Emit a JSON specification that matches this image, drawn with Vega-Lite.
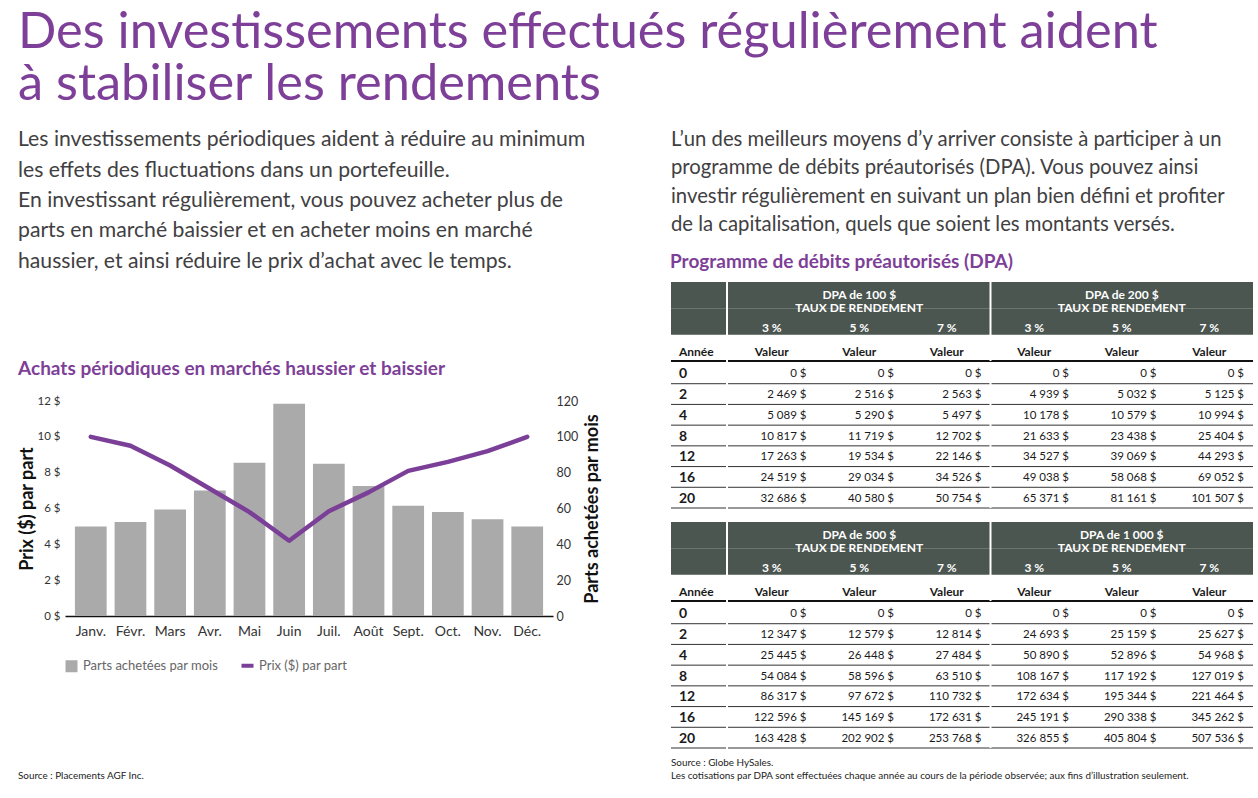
{
  "$schema": "https://vega.github.io/schema/vega-lite/v6.json",
  "background": "white",
  "padding": {"left": 18, "top": 8, "right": 0, "bottom": 0},
  "config": {"view": {"stroke": null}, "font": "Lato"},
  "title": {
    "text": ["Des investissements effectués régulièrement aident", "à stabiliser les rendements"],
    "anchor": "start", "font": "Lato", "fontSize": 50.5, "fontWeight": 400, "color": "#7e3f98", "lineHeight": 52, "offset": 13.5
  },
  "datasets": {
    "texte_gauche": [
      {"bloc": "a", "ligne": 1, "texte": "Les investissements périodiques aident à réduire au minimum"},
      {"bloc": "a", "ligne": 2, "texte": "les effets des fluctuations dans un portefeuille."},
      {"bloc": "a", "ligne": 3, "texte": "En investissant régulièrement, vous pouvez acheter plus de"},
      {"bloc": "a", "ligne": 4, "texte": "parts en marché baissier et en acheter moins en marché"},
      {"bloc": "a", "ligne": 5, "texte": "haussier, et ainsi réduire le prix d’achat avec le temps."}
    ],
    "texte_droite": [
      {"bloc": "a", "ligne": 1, "texte": "L’un des meilleurs moyens d’y arriver consiste à participer à un"},
      {"bloc": "a", "ligne": 2, "texte": "programme de débits préautorisés (DPA). Vous pouvez ainsi"},
      {"bloc": "a", "ligne": 3, "texte": "investir régulièrement en suivant un plan bien défini et profiter"},
      {"bloc": "a", "ligne": 4, "texte": "de la capitalisation, quels que soient les montants versés."}
    ],
    "source_gauche": [{"bloc": "a", "texte": "Source : Placements AGF Inc."}],
    "source_droite": [
      {"bloc": "a", "ligne": 1, "texte": "Source : Globe HySales."},
      {"bloc": "a", "ligne": 2, "texte": "Les cotisations par DPA sont effectuées chaque année au cours de la période observée; aux fins d’illustration seulement."}
    ],
    "mois": [
      {"mois": "Janv.", "parts": 50, "prix": 10},
      {"mois": "Févr.", "parts": 52.5, "prix": 9.5},
      {"mois": "Mars", "parts": 59.5, "prix": 8.4},
      {"mois": "Avr.", "parts": 70, "prix": 7.1},
      {"mois": "Mai", "parts": 85.5, "prix": 5.8},
      {"mois": "Juin", "parts": 118.5, "prix": 4.2},
      {"mois": "Juil.", "parts": 85, "prix": 5.85},
      {"mois": "Août", "parts": 72.5, "prix": 6.9},
      {"mois": "Sept.", "parts": 61.5, "prix": 8.1},
      {"mois": "Oct.", "parts": 58, "prix": 8.6},
      {"mois": "Nov.", "parts": 54, "prix": 9.2},
      {"mois": "Déc.", "parts": 50, "prix": 10}
    ],
    "entete": [{"ligne": "t"}, {"ligne": "p"}],
    "groupes": [
      {"t": "T1", "ligne": "t", "col": "A5", "label": "DPA de 100 $\nTAUX DE RENDEMENT"},
      {"t": "T1", "ligne": "t", "col": "B5", "label": "DPA de 200 $\nTAUX DE RENDEMENT"},
      {"t": "T2", "ligne": "t", "col": "A5", "label": "DPA de 500 $\nTAUX DE RENDEMENT"},
      {"t": "T2", "ligne": "t", "col": "B5", "label": "DPA de 1 000 $\nTAUX DE RENDEMENT"}
    ],
    "pourcentages": [
      {"ligne": "p", "col": "A3", "label": "3 %"},
      {"ligne": "p", "col": "A5", "label": "5 %"},
      {"ligne": "p", "col": "A7", "label": "7 %"},
      {"ligne": "p", "col": "B3", "label": "3 %"},
      {"ligne": "p", "col": "B5", "label": "5 %"},
      {"ligne": "p", "col": "B7", "label": "7 %"}
    ],
    "colonnes": [
      {"ligne": "hv", "col": "A3", "label": "Valeur"},
      {"ligne": "hv", "col": "A5", "label": "Valeur"},
      {"ligne": "hv", "col": "A7", "label": "Valeur"},
      {"ligne": "hv", "col": "B3", "label": "Valeur"},
      {"ligne": "hv", "col": "B5", "label": "Valeur"},
      {"ligne": "hv", "col": "B7", "label": "Valeur"}
    ],
    "libelles": [{"ligne": "hv", "label": "Année"}],
    "annees": [{"annee": "0"}, {"annee": "2"}, {"annee": "4"}, {"annee": "8"}, {"annee": "12"}, {"annee": "16"}, {"annee": "20"}],
    "separateur": [{"col": "B3"}],
    "valeurs": [
      {"t": "T1", "annee": "0", "col": "A3", "v": 0}, {"t": "T1", "annee": "0", "col": "A5", "v": 0}, {"t": "T1", "annee": "0", "col": "A7", "v": 0},
      {"t": "T1", "annee": "0", "col": "B3", "v": 0}, {"t": "T1", "annee": "0", "col": "B5", "v": 0}, {"t": "T1", "annee": "0", "col": "B7", "v": 0},
      {"t": "T1", "annee": "2", "col": "A3", "v": 2469}, {"t": "T1", "annee": "2", "col": "A5", "v": 2516}, {"t": "T1", "annee": "2", "col": "A7", "v": 2563},
      {"t": "T1", "annee": "2", "col": "B3", "v": 4939}, {"t": "T1", "annee": "2", "col": "B5", "v": 5032}, {"t": "T1", "annee": "2", "col": "B7", "v": 5125},
      {"t": "T1", "annee": "4", "col": "A3", "v": 5089}, {"t": "T1", "annee": "4", "col": "A5", "v": 5290}, {"t": "T1", "annee": "4", "col": "A7", "v": 5497},
      {"t": "T1", "annee": "4", "col": "B3", "v": 10178}, {"t": "T1", "annee": "4", "col": "B5", "v": 10579}, {"t": "T1", "annee": "4", "col": "B7", "v": 10994},
      {"t": "T1", "annee": "8", "col": "A3", "v": 10817}, {"t": "T1", "annee": "8", "col": "A5", "v": 11719}, {"t": "T1", "annee": "8", "col": "A7", "v": 12702},
      {"t": "T1", "annee": "8", "col": "B3", "v": 21633}, {"t": "T1", "annee": "8", "col": "B5", "v": 23438}, {"t": "T1", "annee": "8", "col": "B7", "v": 25404},
      {"t": "T1", "annee": "12", "col": "A3", "v": 17263}, {"t": "T1", "annee": "12", "col": "A5", "v": 19534}, {"t": "T1", "annee": "12", "col": "A7", "v": 22146},
      {"t": "T1", "annee": "12", "col": "B3", "v": 34527}, {"t": "T1", "annee": "12", "col": "B5", "v": 39069}, {"t": "T1", "annee": "12", "col": "B7", "v": 44293},
      {"t": "T1", "annee": "16", "col": "A3", "v": 24519}, {"t": "T1", "annee": "16", "col": "A5", "v": 29034}, {"t": "T1", "annee": "16", "col": "A7", "v": 34526},
      {"t": "T1", "annee": "16", "col": "B3", "v": 49038}, {"t": "T1", "annee": "16", "col": "B5", "v": 58068}, {"t": "T1", "annee": "16", "col": "B7", "v": 69052},
      {"t": "T1", "annee": "20", "col": "A3", "v": 32686}, {"t": "T1", "annee": "20", "col": "A5", "v": 40580}, {"t": "T1", "annee": "20", "col": "A7", "v": 50754},
      {"t": "T1", "annee": "20", "col": "B3", "v": 65371}, {"t": "T1", "annee": "20", "col": "B5", "v": 81161}, {"t": "T1", "annee": "20", "col": "B7", "v": 101507},
      {"t": "T2", "annee": "0", "col": "A3", "v": 0}, {"t": "T2", "annee": "0", "col": "A5", "v": 0}, {"t": "T2", "annee": "0", "col": "A7", "v": 0},
      {"t": "T2", "annee": "0", "col": "B3", "v": 0}, {"t": "T2", "annee": "0", "col": "B5", "v": 0}, {"t": "T2", "annee": "0", "col": "B7", "v": 0},
      {"t": "T2", "annee": "2", "col": "A3", "v": 12347}, {"t": "T2", "annee": "2", "col": "A5", "v": 12579}, {"t": "T2", "annee": "2", "col": "A7", "v": 12814},
      {"t": "T2", "annee": "2", "col": "B3", "v": 24693}, {"t": "T2", "annee": "2", "col": "B5", "v": 25159}, {"t": "T2", "annee": "2", "col": "B7", "v": 25627},
      {"t": "T2", "annee": "4", "col": "A3", "v": 25445}, {"t": "T2", "annee": "4", "col": "A5", "v": 26448}, {"t": "T2", "annee": "4", "col": "A7", "v": 27484},
      {"t": "T2", "annee": "4", "col": "B3", "v": 50890}, {"t": "T2", "annee": "4", "col": "B5", "v": 52896}, {"t": "T2", "annee": "4", "col": "B7", "v": 54968},
      {"t": "T2", "annee": "8", "col": "A3", "v": 54084}, {"t": "T2", "annee": "8", "col": "A5", "v": 58596}, {"t": "T2", "annee": "8", "col": "A7", "v": 63510},
      {"t": "T2", "annee": "8", "col": "B3", "v": 108167}, {"t": "T2", "annee": "8", "col": "B5", "v": 117192}, {"t": "T2", "annee": "8", "col": "B7", "v": 127019},
      {"t": "T2", "annee": "12", "col": "A3", "v": 86317}, {"t": "T2", "annee": "12", "col": "A5", "v": 97672}, {"t": "T2", "annee": "12", "col": "A7", "v": 110732},
      {"t": "T2", "annee": "12", "col": "B3", "v": 172634}, {"t": "T2", "annee": "12", "col": "B5", "v": 195344}, {"t": "T2", "annee": "12", "col": "B7", "v": 221464},
      {"t": "T2", "annee": "16", "col": "A3", "v": 122596}, {"t": "T2", "annee": "16", "col": "A5", "v": 145169}, {"t": "T2", "annee": "16", "col": "A7", "v": 172631},
      {"t": "T2", "annee": "16", "col": "B3", "v": 245191}, {"t": "T2", "annee": "16", "col": "B5", "v": 290338}, {"t": "T2", "annee": "16", "col": "B7", "v": 345262},
      {"t": "T2", "annee": "20", "col": "A3", "v": 163428}, {"t": "T2", "annee": "20", "col": "A5", "v": 202902}, {"t": "T2", "annee": "20", "col": "A7", "v": 253768},
      {"t": "T2", "annee": "20", "col": "B3", "v": 326855}, {"t": "T2", "annee": "20", "col": "B5", "v": 405804}, {"t": "T2", "annee": "20", "col": "B7", "v": 507536}
    ]
  },
  "spacing": 68,
  "resolve": {"scale": {"color": "independent"}, "legend": {"color": "independent"}},
  "hconcat": [
    {
      "columns": 1,
      "align": "none",
      "spacing": 82,
      "resolve": {"scale": {"color": "independent"}, "legend": {"color": "independent"}},
      "concat": [
        {
          "width": 480, "height": 154,
          "data": {"name": "texte_gauche"},
          "mark": {"type": "text", "align": "left", "baseline": "middle", "fontSize": 21.2, "color": "#414042", "dx": -47},
          "encoding": {
            "x": {"field": "bloc", "type": "nominal", "scale": {"type": "band", "paddingInner": 0, "paddingOuter": 0}, "bandPosition": 0, "axis": null},
            "y": {"field": "ligne", "type": "ordinal", "scale": {"type": "point", "padding": 0.525}, "axis": null},
            "text": {"field": "texte"}
          }
        },
        {
          "title": {"text": "Achats périodiques en marchés haussier et baissier", "anchor": "start", "fontSize": 19, "fontWeight": "bold", "color": "#7e3f98", "offset": 16},
          "width": 488, "height": 215,
          "data": {"name": "mois"},
          "encoding": {
            "x": {"field": "mois", "type": "ordinal", "sort": null, "scale": {"paddingInner": 0.2, "paddingOuter": 0.25},
                  "axis": {"title": null, "labelAngle": 0, "ticks": false, "domainColor": "#111", "domainWidth": 1.5, "labelFontSize": 14, "labelColor": "#333", "labelPadding": 8}}
          },
          "layer": [
            {
              "mark": {"type": "bar"},
              "encoding": {
                "y": {"field": "parts", "type": "quantitative", "scale": {"domain": [0, 120]},
                      "axis": {"orient": "right", "title": "Parts achetées par mois", "titleAngle": 270, "titleBaseline": "top", "titleFontSize": 18, "titleFontWeight": "bold", "titleColor": "#111", "titlePadding": 6,
                               "values": [0, 20, 40, 60, 80, 100, 120], "domain": false, "ticks": false, "grid": false, "labelFontSize": 12.5, "labelColor": "#333", "labelPadding": 3}},
                "color": {"datum": "Parts achetées par mois", "type": "nominal",
                          "scale": {"domain": ["Parts achetées par mois", "Prix ($) par part"], "range": ["#aaaaaa", "#7b3f98"]},
                          "legend": {"orient": "bottom", "direction": "horizontal", "title": null, "labelFontSize": 13, "labelColor": "#666", "symbolSize": 144, "columnPadding": 14, "labelOffset": 5, "offset": 21, "symbolType": "square",
                                     "encode": {"symbols": {"update": {
                                       "shape": {"signal": "datum.value === 'Prix ($) par part' ? 'stroke' : 'square'"},
                                       "fill": {"signal": "datum.value === 'Prix ($) par part' ? 'transparent' : '#aaaaaa'"},
                                       "stroke": {"signal": "datum.value === 'Prix ($) par part' ? '#7b3f98' : 'transparent'"},
                                       "strokeWidth": {"signal": "datum.value === 'Prix ($) par part' ? 4 : 0"},
                                       "opacity": {"value": 1}
                                     }}}}}
              }
            },
            {
              "mark": {"type": "line", "strokeWidth": 4.5, "strokeCap": "round", "strokeJoin": "round"},
              "encoding": {
                "y": {"field": "prix", "type": "quantitative", "scale": {"domain": [0, 12]},
                      "axis": {"orient": "left", "title": "Prix ($) par part", "titleFontSize": 18, "titleFontWeight": "bold", "titleColor": "#111", "titlePadding": 1,
                               "values": [0, 2, 4, 6, 8, 10, 12], "labelExpr": "datum.value + ' $'", "domain": false, "ticks": false, "grid": false, "labelFontSize": 11.5, "labelColor": "#333", "labelPadding": 5}},
                "color": {"datum": "Prix ($) par part", "type": "nominal"}
              }
            }
          ],
          "resolve": {"scale": {"y": "independent"}}
        },
        {
          "width": 300, "height": 40,
          "data": {"name": "source_gauche"},
          "mark": {"type": "text", "align": "left", "baseline": "middle", "fontSize": 9.9, "color": "#222", "dx": -47},
          "encoding": {
            "x": {"field": "bloc", "type": "nominal", "scale": {"type": "band", "paddingInner": 0, "paddingOuter": 0}, "bandPosition": 0, "axis": null},
            "text": {"field": "texte"}
          }
        }
      ]
    },
    {
      "spacing": 8,
      "vconcat": [
        {
          "width": 580, "height": 120.5,
          "data": {"name": "texte_droite"},
          "mark": {"type": "text", "align": "left", "baseline": "middle", "fontSize": 20.3, "color": "#414042"},
          "encoding": {
            "x": {"field": "bloc", "type": "nominal", "scale": {"type": "band", "paddingInner": 0, "paddingOuter": 0}, "bandPosition": 0, "axis": null},
            "y": {"field": "ligne", "type": "ordinal", "scale": {"type": "point", "padding": 0.614, "align": 0.457}, "axis": null},
            "text": {"field": "texte"}
          }
        },
        {
          "title": {"text": "Programme de débits préautorisés (DPA)", "anchor": "start", "fontSize": 19, "fontWeight": "bold", "color": "#7e3f98", "offset": 9},
          "spacing": 12,
          "vconcat": [
            {
              "spacing": 0,
              "vconcat": [
                {
                  "spacing": 0,
                  "hconcat": [
                    {
                      "width": 55, "height": 79,
                      "layer": [
                        {
                          "data": {"name": "entete"},
                          "mark": {"type": "rect", "color": "#4b5651"},
                          "encoding": {"y": {"field": "ligne", "type": "nominal", "scale": {"type": "band", "domain": ["t", "p", "hv"], "paddingInner": 0, "paddingOuter": 0}, "axis": null}}
                        },
                        {
                          "data": {"name": "libelles"},
                          "mark": {"type": "text", "align": "left", "baseline": "middle", "fontWeight": "bold", "fontSize": 12, "color": "#1a1a1a", "dx": 8, "dy": 4},
                          "encoding": {
                            "x": {"datum": "c", "type": "nominal", "scale": {"type": "band", "paddingInner": 0, "paddingOuter": 0}, "bandPosition": 0, "axis": null},
                            "y": {"field": "ligne", "type": "nominal", "axis": null},
                            "text": {"field": "label"}
                          }
                        },
                        {
                          "data": {"name": "libelles"},
                          "mark": {"type": "rule", "color": "#111", "strokeWidth": 2},
                          "encoding": {"y": {"field": "ligne", "type": "nominal", "bandPosition": 1, "axis": null}}
                        }
                      ]
                    },
                    {
                      "width": 525, "height": 79,
                      "layer": [
                        {
                          "data": {"name": "entete"},
                          "mark": {"type": "rect", "color": "#4b5651"},
                          "encoding": {"y": {"field": "ligne", "type": "nominal", "scale": {"type": "band", "domain": ["t", "p", "hv"], "paddingInner": 0, "paddingOuter": 0}, "axis": null}}
                        },
                        {
                          "data": {"name": "groupes"},
                          "transform": [{"filter": "datum.t === 'T1'"}],
                          "mark": {"type": "text", "color": "white", "fontWeight": "bold", "fontSize": 12, "lineBreak": "\n", "lineHeight": 13, "baseline": "middle", "dy": 0},
                          "encoding": {
                            "x": {"field": "col", "type": "nominal", "scale": {"type": "band", "domain": ["A3", "A5", "A7", "B3", "B5", "B7"], "paddingInner": 0, "paddingOuter": 0}, "axis": null},
                            "y": {"field": "ligne", "type": "nominal", "axis": null},
                            "text": {"field": "label"}
                          }
                        },
                        {
                          "data": {"name": "pourcentages"},
                          "mark": {"type": "text", "color": "white", "fontWeight": "bold", "fontSize": 12, "baseline": "middle", "dy": 6},
                          "encoding": {
                            "x": {"field": "col", "type": "nominal", "axis": null},
                            "y": {"field": "ligne", "type": "nominal", "axis": null},
                            "text": {"field": "label"}
                          }
                        },
                        {
                          "data": {"name": "colonnes"},
                          "mark": {"type": "text", "baseline": "middle", "fontWeight": "bold", "fontSize": 12, "color": "#1a1a1a", "dy": 4},
                          "encoding": {
                            "x": {"field": "col", "type": "nominal", "axis": null},
                            "y": {"field": "ligne", "type": "nominal", "axis": null},
                            "text": {"field": "label"}
                          }
                        },
                        {
                          "data": {"name": "libelles"},
                          "mark": {"type": "rule", "color": "#111", "strokeWidth": 2},
                          "encoding": {"y": {"field": "ligne", "type": "nominal", "bandPosition": 1, "axis": null}}
                        },
                        {
                          "data": {"name": "separateur"},
                          "mark": {"type": "rule", "color": "white", "strokeWidth": 2},
                          "encoding": {"x": {"field": "col", "type": "nominal", "bandPosition": 0, "axis": null}}
                        }
                      ]
                    }
                  ]
                },
                {
                  "spacing": 0,
                  "hconcat": [
                    {
                      "width": 55, "height": 145,
                      "layer": [
                        {
                          "data": {"name": "annees"},
                          "mark": {"type": "text", "align": "left", "baseline": "middle", "fontWeight": "bold", "fontSize": 14, "color": "#1a1a1a", "dx": 8, "dy": 1},
                          "encoding": {
                            "x": {"datum": "c", "type": "nominal", "scale": {"type": "band", "paddingInner": 0, "paddingOuter": 0}, "bandPosition": 0, "axis": null},
                            "y": {"field": "annee", "type": "nominal", "scale": {"type": "band", "domain": ["0", "2", "4", "8", "12", "16", "20"], "paddingInner": 0, "paddingOuter": 0}, "axis": null},
                            "text": {"field": "annee"}
                          }
                        },
                        {
                          "data": {"name": "annees"},
                          "mark": {"type": "rule", "color": "#333", "strokeWidth": 1},
                          "encoding": {"y": {"field": "annee", "type": "nominal", "bandPosition": 1, "axis": null}}
                        }
                      ]
                    },
                    {
                      "width": 525, "height": 145,
                      "layer": [
                        {
                          "data": {"name": "valeurs"},
                          "transform": [
                            {"filter": "datum.t === 'T1'"},
                            {"calculate": "replace(format(datum.v, ',d'), regexp(',', 'g'), ' ') + ' $'", "as": "label"}
                          ],
                          "mark": {"type": "text", "align": "right", "baseline": "middle", "fontSize": 11.5, "color": "#1a1a1a", "dx": -9, "dy": 1},
                          "encoding": {
                            "x": {"field": "col", "type": "nominal", "scale": {"type": "band", "domain": ["A3", "A5", "A7", "B3", "B5", "B7"], "paddingInner": 0, "paddingOuter": 0}, "bandPosition": 1, "axis": null},
                            "y": {"field": "annee", "type": "nominal", "scale": {"type": "band", "domain": ["0", "2", "4", "8", "12", "16", "20"], "paddingInner": 0, "paddingOuter": 0}, "axis": null},
                            "text": {"field": "label"}
                          }
                        },
                        {
                          "data": {"name": "annees"},
                          "mark": {"type": "rule", "color": "#333", "strokeWidth": 1},
                          "encoding": {"y": {"field": "annee", "type": "nominal", "bandPosition": 1, "axis": null}}
                        },
                        {
                          "data": {"name": "separateur"},
                          "mark": {"type": "rule", "color": "white", "strokeWidth": 2},
                          "encoding": {"x": {"field": "col", "type": "nominal", "bandPosition": 0, "axis": null}}
                        }
                      ]
                    }
                  ]
                }
              ]
            },
            {
              "spacing": 0,
              "vconcat": [
                {
                  "spacing": 0,
                  "hconcat": [
                    {
                      "width": 55, "height": 79,
                      "layer": [
                        {
                          "data": {"name": "entete"},
                          "mark": {"type": "rect", "color": "#4b5651"},
                          "encoding": {"y": {"field": "ligne", "type": "nominal", "scale": {"type": "band", "domain": ["t", "p", "hv"], "paddingInner": 0, "paddingOuter": 0}, "axis": null}}
                        },
                        {
                          "data": {"name": "libelles"},
                          "mark": {"type": "text", "align": "left", "baseline": "middle", "fontWeight": "bold", "fontSize": 12, "color": "#1a1a1a", "dx": 8, "dy": 4},
                          "encoding": {
                            "x": {"datum": "c", "type": "nominal", "scale": {"type": "band", "paddingInner": 0, "paddingOuter": 0}, "bandPosition": 0, "axis": null},
                            "y": {"field": "ligne", "type": "nominal", "axis": null},
                            "text": {"field": "label"}
                          }
                        },
                        {
                          "data": {"name": "libelles"},
                          "mark": {"type": "rule", "color": "#111", "strokeWidth": 2},
                          "encoding": {"y": {"field": "ligne", "type": "nominal", "bandPosition": 1, "axis": null}}
                        }
                      ]
                    },
                    {
                      "width": 525, "height": 79,
                      "layer": [
                        {
                          "data": {"name": "entete"},
                          "mark": {"type": "rect", "color": "#4b5651"},
                          "encoding": {"y": {"field": "ligne", "type": "nominal", "scale": {"type": "band", "domain": ["t", "p", "hv"], "paddingInner": 0, "paddingOuter": 0}, "axis": null}}
                        },
                        {
                          "data": {"name": "groupes"},
                          "transform": [{"filter": "datum.t === 'T2'"}],
                          "mark": {"type": "text", "color": "white", "fontWeight": "bold", "fontSize": 12, "lineBreak": "\n", "lineHeight": 13, "baseline": "middle", "dy": 0},
                          "encoding": {
                            "x": {"field": "col", "type": "nominal", "scale": {"type": "band", "domain": ["A3", "A5", "A7", "B3", "B5", "B7"], "paddingInner": 0, "paddingOuter": 0}, "axis": null},
                            "y": {"field": "ligne", "type": "nominal", "axis": null},
                            "text": {"field": "label"}
                          }
                        },
                        {
                          "data": {"name": "pourcentages"},
                          "mark": {"type": "text", "color": "white", "fontWeight": "bold", "fontSize": 12, "baseline": "middle", "dy": 6},
                          "encoding": {
                            "x": {"field": "col", "type": "nominal", "axis": null},
                            "y": {"field": "ligne", "type": "nominal", "axis": null},
                            "text": {"field": "label"}
                          }
                        },
                        {
                          "data": {"name": "colonnes"},
                          "mark": {"type": "text", "baseline": "middle", "fontWeight": "bold", "fontSize": 12, "color": "#1a1a1a", "dy": 4},
                          "encoding": {
                            "x": {"field": "col", "type": "nominal", "axis": null},
                            "y": {"field": "ligne", "type": "nominal", "axis": null},
                            "text": {"field": "label"}
                          }
                        },
                        {
                          "data": {"name": "libelles"},
                          "mark": {"type": "rule", "color": "#111", "strokeWidth": 2},
                          "encoding": {"y": {"field": "ligne", "type": "nominal", "bandPosition": 1, "axis": null}}
                        },
                        {
                          "data": {"name": "separateur"},
                          "mark": {"type": "rule", "color": "white", "strokeWidth": 2},
                          "encoding": {"x": {"field": "col", "type": "nominal", "bandPosition": 0, "axis": null}}
                        }
                      ]
                    }
                  ]
                },
                {
                  "spacing": 0,
                  "hconcat": [
                    {
                      "width": 55, "height": 145,
                      "layer": [
                        {
                          "data": {"name": "annees"},
                          "mark": {"type": "text", "align": "left", "baseline": "middle", "fontWeight": "bold", "fontSize": 14, "color": "#1a1a1a", "dx": 8, "dy": 1},
                          "encoding": {
                            "x": {"datum": "c", "type": "nominal", "scale": {"type": "band", "paddingInner": 0, "paddingOuter": 0}, "bandPosition": 0, "axis": null},
                            "y": {"field": "annee", "type": "nominal", "scale": {"type": "band", "domain": ["0", "2", "4", "8", "12", "16", "20"], "paddingInner": 0, "paddingOuter": 0}, "axis": null},
                            "text": {"field": "annee"}
                          }
                        },
                        {
                          "data": {"name": "annees"},
                          "mark": {"type": "rule", "color": "#333", "strokeWidth": 1},
                          "encoding": {"y": {"field": "annee", "type": "nominal", "bandPosition": 1, "axis": null}}
                        }
                      ]
                    },
                    {
                      "width": 525, "height": 145,
                      "layer": [
                        {
                          "data": {"name": "valeurs"},
                          "transform": [
                            {"filter": "datum.t === 'T2'"},
                            {"calculate": "replace(format(datum.v, ',d'), regexp(',', 'g'), ' ') + ' $'", "as": "label"}
                          ],
                          "mark": {"type": "text", "align": "right", "baseline": "middle", "fontSize": 11.5, "color": "#1a1a1a", "dx": -9, "dy": 1},
                          "encoding": {
                            "x": {"field": "col", "type": "nominal", "scale": {"type": "band", "domain": ["A3", "A5", "A7", "B3", "B5", "B7"], "paddingInner": 0, "paddingOuter": 0}, "bandPosition": 1, "axis": null},
                            "y": {"field": "annee", "type": "nominal", "scale": {"type": "band", "domain": ["0", "2", "4", "8", "12", "16", "20"], "paddingInner": 0, "paddingOuter": 0}, "axis": null},
                            "text": {"field": "label"}
                          }
                        },
                        {
                          "data": {"name": "annees"},
                          "mark": {"type": "rule", "color": "#333", "strokeWidth": 1},
                          "encoding": {"y": {"field": "annee", "type": "nominal", "bandPosition": 1, "axis": null}}
                        },
                        {
                          "data": {"name": "separateur"},
                          "mark": {"type": "rule", "color": "white", "strokeWidth": 2},
                          "encoding": {"x": {"field": "col", "type": "nominal", "bandPosition": 0, "axis": null}}
                        }
                      ]
                    }
                  ]
                }
              ]
            }
          ]
        },
        {
          "width": 580, "height": 31,
          "data": {"name": "source_droite"},
          "mark": {"type": "text", "align": "left", "baseline": "middle", "fontSize": 9.9, "color": "#222"},
          "encoding": {
            "x": {"field": "bloc", "type": "nominal", "scale": {"type": "band", "paddingInner": 0, "paddingOuter": 0}, "bandPosition": 0, "axis": null},
            "y": {"field": "ligne", "type": "ordinal", "scale": {"type": "point", "padding": 0.692, "align": 0.333}, "axis": null},
            "text": {"field": "texte"}
          }
        }
      ]
    }
  ]
}
